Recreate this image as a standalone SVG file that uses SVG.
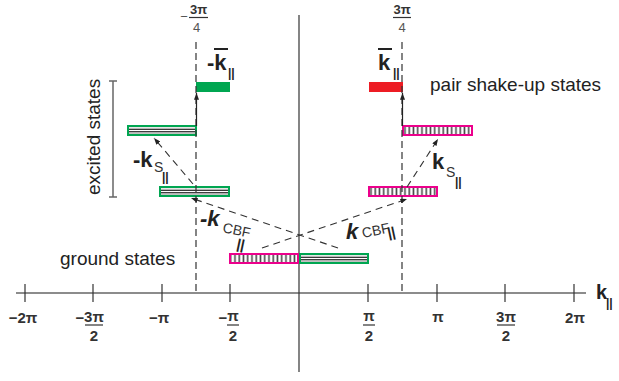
<svg xmlns="http://www.w3.org/2000/svg" width="619" height="381" viewBox="0 0 619 381">
<style>
text{font-family:"Liberation Sans",Arial,sans-serif;fill:#222}
.lbl{font-size:19px}
.bk{font-size:22px;font-weight:bold}
.bki{font-size:22px;font-weight:bold;font-style:italic}
.sub{font-size:14px;fill:#333}
.par{font-size:12px;font-weight:bold}
.tk{font-size:15px;font-weight:bold;fill:#333;text-anchor:middle}
.tkr{font-size:13px;fill:#555;text-anchor:middle}
.axis{stroke:#666;stroke-width:1.5;fill:none}
.tick{stroke:#333;stroke-width:1.2}
.frac{stroke:#333;stroke-width:1.2}
.dash{stroke:#333;stroke-width:1.2;stroke-dasharray:7,4;fill:none}
.dasharr{stroke:#333;stroke-width:1.1;stroke-dasharray:7,5;fill:none}
.solidarr{stroke:#222;stroke-width:1.2;fill:none}
.gbar{fill:url(#gstripe);stroke:#00a651;stroke-width:2}
.mbar{fill:url(#vstripe);stroke:#ec008c;stroke-width:2}
</style>
<defs>
<linearGradient id="gstripe" x1="0" y1="0" x2="0" y2="1">
<stop offset="0" stop-color="#fff"/><stop offset="0.15" stop-color="#fff"/>
<stop offset="0.22" stop-color="#999"/><stop offset="0.32" stop-color="#ccc"/>
<stop offset="0.4" stop-color="#222"/><stop offset="0.47" stop-color="#fff"/>
<stop offset="0.55" stop-color="#fff"/><stop offset="0.62" stop-color="#222"/>
<stop offset="0.7" stop-color="#bbb"/><stop offset="0.8" stop-color="#888"/>
<stop offset="0.87" stop-color="#fff"/><stop offset="1" stop-color="#fff"/>
</linearGradient>
<pattern id="vstripe" width="4.25" height="12" patternUnits="userSpaceOnUse">
<rect width="4.25" height="12" fill="#fff"/>
<rect x="0.5" width="1.1" height="12" fill="#222"/>
<rect x="1.6" width="0.8" height="12" fill="#aaa"/>
</pattern>
<marker id="ah" viewBox="0 0 8 6" refX="8" refY="3" markerWidth="7" markerHeight="5" orient="auto" markerUnits="userSpaceOnUse">
<path d="M0,0 L8,3 L0,6 z" fill="#222"/>
</marker>
</defs>

<g id="axes">
<line class="axis" x1="16" y1="293" x2="586" y2="293"/>
<line x1="299" y1="15" x2="299" y2="372" stroke="#333" stroke-width="1.2"/>
<g class="tick">
<line x1="25" y1="284" x2="25" y2="302"/>
<line x1="93" y1="284" x2="93" y2="302"/>
<line x1="162" y1="284" x2="162" y2="302"/>
<line x1="230" y1="284" x2="230" y2="302"/>
<line x1="368" y1="284" x2="368" y2="302"/>
<line x1="437" y1="284" x2="437" y2="302"/>
<line x1="505" y1="284" x2="505" y2="302"/>
<line x1="574" y1="284" x2="574" y2="302"/>
</g>
</g>

<g id="tick-labels">
<text class="tk" x="23" y="323">−2π</text>
<text class="tk" x="80" y="323">−</text>
<text class="tk" x="94" y="322">3π</text>
<line class="frac" x1="85" y1="325" x2="103" y2="325"/>
<text class="tk" x="94" y="341">2</text>
<text class="tk" x="159" y="323">−π</text>
<text class="tk" x="223" y="323">−</text>
<text class="tk" x="233" y="321">π</text>
<line class="frac" x1="227" y1="325" x2="239" y2="325"/>
<text class="tk" x="233" y="341">2</text>
<text class="tk" x="369" y="321">π</text>
<line class="frac" x1="363" y1="325" x2="375" y2="325"/>
<text class="tk" x="369" y="341">2</text>
<text class="tk" x="438" y="322">π</text>
<text class="tk" x="506" y="322">3π</text>
<line class="frac" x1="497" y1="325" x2="515" y2="325"/>
<text class="tk" x="506" y="341">2</text>
<text class="tk" x="575" y="323">2π</text>
<text class="bk" x="596" y="299" style="font-size:20px">k</text>
<text class="par" x="606" y="307">||</text>
</g>

<g id="top-labels">
<text class="tkr" x="184" y="21">−</text>
<text class="tk" x="198.5" y="14" style="font-size:13px">3π</text>
<line class="frac" x1="189" y1="17.5" x2="208" y2="17.5"/>
<text class="tkr" x="196.5" y="32">4</text>
<text class="tk" x="402" y="14" style="font-size:13px">3π</text>
<line class="frac" x1="393" y1="17.5" x2="411" y2="17.5"/>
<text class="tkr" x="402" y="32">4</text>
</g>

<g id="bars">
<g id="green-filled"><rect x="196" y="82" width="34" height="10" fill="#00a651"/></g>
<g id="red-filled"><rect x="369" y="82" width="34" height="10" fill="#ed1c24"/></g>
<g id="green-top"><rect class="gbar" x="128" y="126" width="68" height="9"/></g>
<g id="green-mid"><rect class="gbar" x="160" y="187" width="69" height="9"/></g>
<g id="green-ground"><rect class="gbar" x="300" y="254" width="68" height="9"/></g>
<g id="magenta-top"><rect class="mbar" x="403" y="126" width="69" height="9"/></g>
<g id="magenta-mid"><rect class="mbar" x="369" y="187" width="68" height="9"/></g>
<g id="magenta-ground"><rect class="mbar" x="230" y="254" width="68" height="9"/></g>
</g>

<g id="connectors">
<path class="dash" d="M196,42 V293"/>
<path class="dash" d="M402,42 V293"/>
<path class="solidarr" d="M196.5,126 V93" marker-end="url(#ah)"/>
<path class="solidarr" d="M402.5,126 V93" marker-end="url(#ah)"/>
<path class="dasharr" d="M193,184 L154,138" marker-end="url(#ah)"/>
<path class="dasharr" d="M407,187 L438,139" marker-end="url(#ah)"/>
<path class="dasharr" d="M262,248 L407,199" marker-end="url(#ah)"/>
<path class="dasharr" d="M338,248 L191,198" marker-end="url(#ah)"/>
</g>

<g id="bracket" stroke="#666" stroke-width="1.5">
<line x1="113" y1="81" x2="113" y2="197"/>
<line x1="109" y1="81" x2="117" y2="81"/>
<line x1="109" y1="197" x2="117" y2="197"/>
</g>

<g id="labels">
<text class="lbl" x="430" y="91">pair shake-up states</text>
<text class="lbl" x="60" y="265">ground states</text>
<text class="lbl" transform="translate(100,195) rotate(-90)">excited states</text>

<text class="bk" x="207" y="70">-k</text>
<line x1="214" y1="49" x2="228" y2="49" stroke="#222" stroke-width="2"/>
<text class="par" x="228" y="77">||</text>

<text class="bk" x="378" y="70">k</text>
<line x1="378" y1="49" x2="392" y2="49" stroke="#222" stroke-width="2"/>
<text class="par" x="393" y="77">||</text>

<text class="bk" x="133" y="167">-k</text>
<text class="sub" x="154" y="172">S</text>
<text class="par" x="162" y="181">||</text>

<text class="bk" x="432" y="169">k</text>
<text class="sub" x="446" y="177">S</text>
<text class="par" x="455" y="186">||</text>

<text class="bki" x="200" y="226">-k</text>
<g transform="translate(222,232) rotate(12)">
<text class="sub" x="0" y="0">CBF</text>
<text class="par" x="17" y="13" style="font-size:14px">||</text>
</g>

<text class="bki" x="346" y="239">k</text>
<g transform="translate(363,238) rotate(-12)">
<text class="sub" x="0" y="0">CBF</text>
<text class="par" x="25" y="5" style="font-size:14px">||</text>
</g>
</g>
</svg>
